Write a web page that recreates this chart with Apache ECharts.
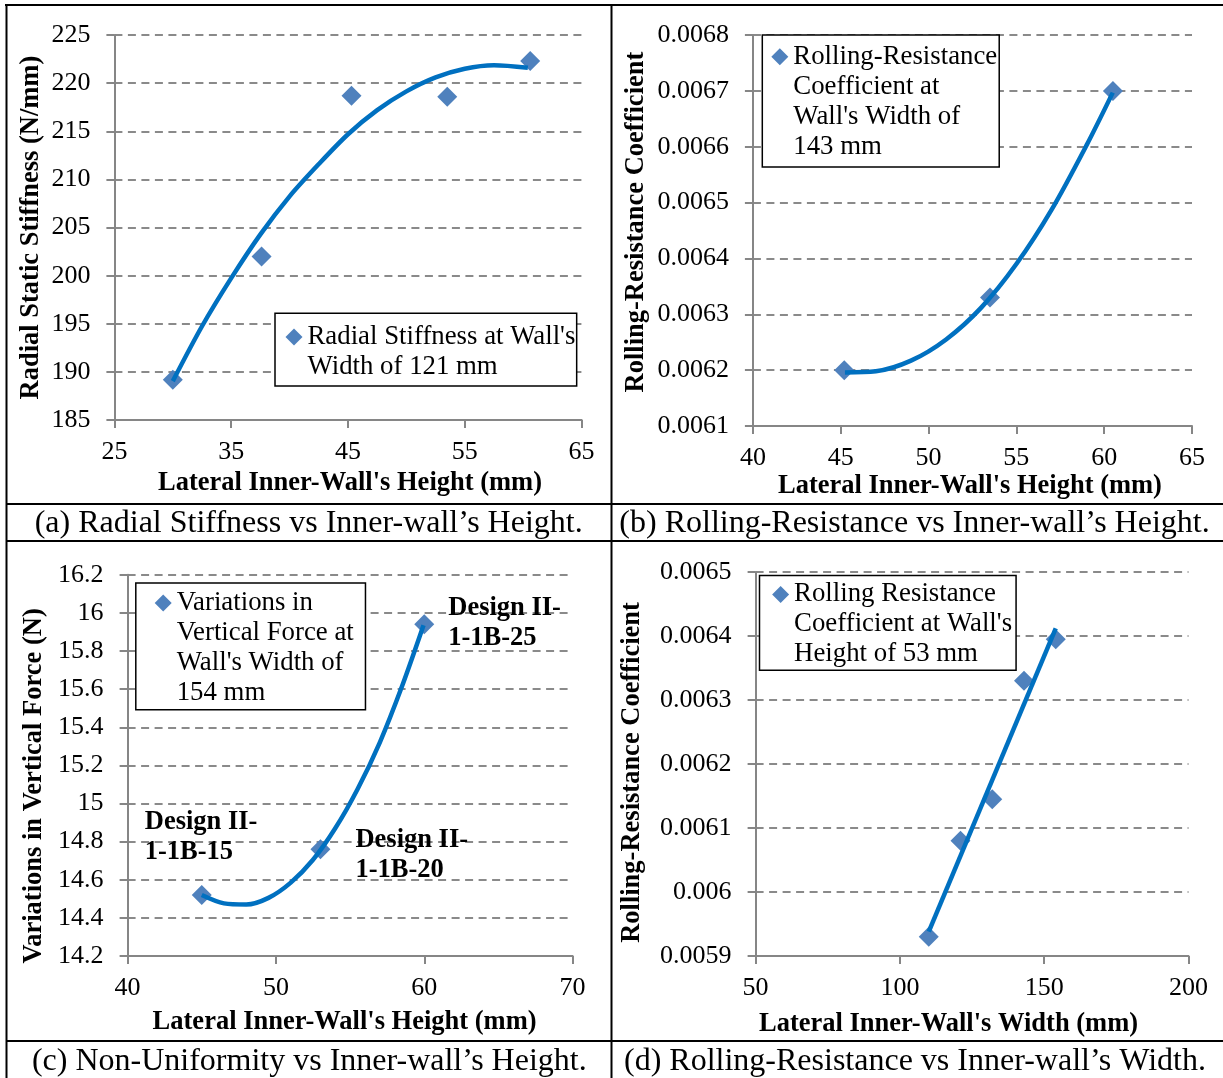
<!DOCTYPE html>
<html><head><meta charset="utf-8">
<script src="https://cdn.jsdelivr.net/npm/echarts@6/dist/echarts.min.js"></script>
<style>html,body{margin:0;padding:0;background:#fff}#c{width:1223px;height:1078px}</style>
</head><body><div id="c"></div>
<script>
// ---------- Panel (a) ----------
const xA = [30, 37.6, 45.3, 53.5, 60.6];
const yA = [189.2, 202.0, 218.7, 218.6, 222.3];
const trendAx = [30.0, 32.5, 35, 37.5, 40, 42.5, 45, 47.5, 50, 52.5, 55, 57.5, 60.4];
const trendAy = [189.05, 194.75, 199.75, 204.3, 208.25, 211.6, 214.7, 217.2, 219.15, 220.6, 221.5, 221.86, 221.6];
const legendA = ["Radial Stiffness at Wall's", "Width of 121 mm"];
// ---------- Panel (b) ----------
const xB = [45.2, 53.5, 60.5];
const yB = [0.0062, 0.00633, 0.0067];
const trendBx = [45.24, 47, 49, 51, 53, 55, 57, 59, 60.49];
const trendBy = [0.006196, 0.006198, 0.006217, 0.006255, 0.006312, 0.00639, 0.006487, 0.006603, 0.006697];
const legendB = ["Rolling-Resistance", "Coefficient at", "Wall's Width of", "143 mm"];
// ---------- Panel (c) ----------
const xC = [45, 53, 60];
const yC = [14.52, 14.76, 15.94];
const designC = ["Design II-\n1-1B-15", "Design II-\n1-1B-20", "Design II-\n1-1B-25"];
const trendCx = [45, 46.5, 48, 49.5, 51, 52.5, 54, 55.5, 57, 58.5, 59.95];
const trendCy = [14.52, 14.476, 14.47, 14.505, 14.585, 14.705, 14.87, 15.075, 15.32, 15.615, 15.935];
const legendC = ["Variations in", "Vertical Force at", "Wall's Width of", "154 mm"];
// ---------- Panel (d) ----------
const xD = [110, 121, 132, 143, 154];
const yD = [0.00593, 0.00608, 0.006145, 0.00633, 0.006395];
const trendDx = [110, 154];
const trendDy = [0.005938, 0.006412];
const legendD = ["Rolling Resistance", "Coefficient at Wall's", "Height of 53 mm"];
// ---------- Axis texts ----------
const xNames = ["Lateral Inner-Wall's Height (mm)", "Lateral Inner-Wall's Height (mm)", "Lateral Inner-Wall's Height (mm)", "Lateral Inner-Wall's Width (mm)"];
const yNames = ["Radial Static Stiffness (N/mm)", "Rolling-Resistance Coefficient", "Variations in Vertical Force (N)", "Rolling-Resistance Coefficient"];
const captions = ["(a) Radial Stiffness vs Inner-wall\u2019s Height.", "(b) Rolling-Resistance vs Inner-wall\u2019s Height.", "(c) Non-Uniformity vs Inner-wall\u2019s Height.", "(d) Rolling-Resistance vs Inner-wall\u2019s Width."];

const FONT = "'Liberation Serif', 'Times New Roman', serif";
const AXIS_GRAY = '#868686';
const LINE_BLUE = '#0070C0';
const MARK_BLUE = '#4F81BD';

const pairs = (xs, ys) => xs.map((x, i) => [x, ys[i]]);

const grids = [
  {left: 114.4, top: 35.1, width: 467.2, height: 385},
  {left: 752.9, top: 35.1, width: 439.1, height: 390.9},
  {left: 127.6, top: 574.8, width: 445, height: 381.2},
  {left: 755.6, top: 572, width: 432.9, height: 384}
];
const xRanges = [[25, 65, 10], [40, 65, 5], [40, 70, 10], [50, 200, 50]];
const yRanges = [[185, 225, 5], [0.0061, 0.0068, 0.0001], [14.2, 16.2, 0.2], [0.0059, 0.0065, 0.0001]];
const xNameGap = [50, 47, 52.7, 54.8];
const xNamePad = [[0, 0, 0, 4], [0, 5, 0, 0], [0, 11, 0, 0], [0, 47, 0, 0]];
const yNameGap = [70, 103.5, 80.4, 109.6];
const yNamePad = [[0, 0, 0, 0], [0, 0, 0, 17], [0, 41, 0, 0], [0, 17, 0, 0]];

const xAxes = grids.map((g, i) => ({
  type: 'value', gridIndex: i, min: xRanges[i][0], max: xRanges[i][1], interval: xRanges[i][2],
  name: xNames[i], nameLocation: 'middle', nameGap: xNameGap[i],
  nameTextStyle: {fontFamily: FONT, fontWeight: 'bold', fontSize: 26.5, color: '#000', padding: xNamePad[i]},
  axisLine: {show: true, onZero: false, lineStyle: {color: AXIS_GRAY, width: 2}},
  axisTick: {show: true, length: 8, lineStyle: {color: AXIS_GRAY, width: 2}},
  axisLabel: {margin: 19, fontFamily: FONT, fontSize: 26, color: '#000'},
  splitLine: {show: false}
}));
const yAxes = grids.map((g, i) => ({
  type: 'value', gridIndex: i, min: yRanges[i][0], max: yRanges[i][1], interval: yRanges[i][2],
  name: yNames[i], nameLocation: 'middle', nameGap: yNameGap[i],
  nameTextStyle: {fontFamily: FONT, fontWeight: 'bold', fontSize: 26.5, color: '#000', padding: yNamePad[i]},
  axisLine: {show: true, onZero: false, lineStyle: {color: AXIS_GRAY, width: 2}},
  axisTick: {show: true, length: 8, lineStyle: {color: AXIS_GRAY, width: 2}},
  axisLabel: {margin: 24, fontFamily: FONT, fontSize: 26, color: '#000'},
  splitLine: {show: true, lineStyle: {color: '#8a8a8a', width: 2, type: [8, 5.5]}}
}));

const legendTexts = [legendA, legendB, legendC, legendD];
const seriesNames = legendTexts.map(t => t.join(' '));
const LH = 30;
// diamond icon aligned with the first text line; invisible points stretch the icon box to the text block
const diamondIcon = n => {
  const H = n * LH;
  return `path://M0,0L0,0M17,${H}L17,${H}M8.5,6.5L17,15L8.5,23.5L0,15Z`;
};
const legendBoxes = [
  {left: 275, top: 313.3, padding: [8.7, 1.3, 4, 10.5]},
  {left: 762.3, top: 35.1, padding: [6.7, 2, 5.2, 9]},
  {left: 135.8, top: 583, padding: [5, 11.7, 1.8, 18.9]},
  {left: 759.5, top: 575.5, padding: [3.9, 4, 0.8, 12.6]}
];
const legends = legendBoxes.map((b, i) => ({
  data: [seriesNames[i]],
  left: b.left, top: b.top, padding: b.padding,
  orient: 'vertical', selectedMode: false,
  backgroundColor: '#fff', borderColor: '#000', borderWidth: 1.5,
  icon: diamondIcon(legendTexts[i].length), itemWidth: 17, itemHeight: LH * legendTexts[i].length,
  itemStyle: {color: MARK_BLUE, opacity: 1},
  formatter: () => legendTexts[i].join('\n'),
  textStyle: {fontFamily: FONT, fontSize: 26.8, color: '#000', lineHeight: LH}
}));

const labelOffsetsC = [[-57, -58], [35, 6], [24, -1]];
const scatterData = [
  pairs(xA, yA),
  pairs(xB, yB),
  pairs(xC, yC).map((v, i) => ({
    value: v,
    label: {show: true, position: [10 + labelOffsetsC[i][0], 10 + labelOffsetsC[i][1]],
      align: 'left', verticalAlign: 'middle', formatter: designC[i],
      fontFamily: FONT, fontWeight: 'bold', fontSize: 26.5, lineHeight: 30, color: '#000',
      textBorderWidth: 0, opacity: 1}
  })),
  pairs(xD, yD)
];
const trendData = [pairs(trendAx, trendAy), pairs(trendBx, trendBy), pairs(trendCx, trendCy), pairs(trendDx, trendDy)];

const series = [];
for (let i = 0; i < 4; i++) {
  series.push({
    type: 'scatter', name: seriesNames[i], xAxisIndex: i, yAxisIndex: i,
    data: scatterData[i], symbol: 'diamond', symbolSize: 20,
    itemStyle: {color: MARK_BLUE, opacity: 1}, z: 2, emphasis: {disabled: true}
  });
  series.push({
    type: 'line', name: 'Trend ' + (i + 1), xAxisIndex: i, yAxisIndex: i,
    data: trendData[i], smooth: i === 3 ? false : 0.3,
    showSymbol: false, symbol: 'none',
    lineStyle: {color: LINE_BLUE, width: 4.5}, z: 3, emphasis: {disabled: true}
  });
}

const L = (x1, y1, x2, y2) => ({type: 'line', silent: true, z: 100,
  shape: {x1, y1, x2, y2}, style: {stroke: '#000', lineWidth: 2}});
const T = (x, y, text) => ({type: 'text', silent: true, z: 100, x, y,
  style: {text, fill: '#000', font: '32px ' + FONT, textAlign: 'center', textVerticalAlign: 'middle'}});

const graphic = [
  L(5, 5, 1223, 5), L(6.5, 5, 6.5, 1078), L(611.5, 5, 611.5, 1078),
  L(6, 504, 1223, 504), L(6, 541, 1223, 541), L(6, 1041, 1223, 1041),
  T(308.7, 524, captions[0]), T(914.5, 524, captions[1]),
  T(309.3, 1062, captions[2]), T(915, 1062, captions[3])
];

const chart = echarts.init(document.getElementById('c'), null, {renderer: 'canvas'});
chart.setOption({
  animation: false,
  backgroundColor: '#fff',
  grid: grids,
  xAxis: xAxes,
  yAxis: yAxes,
  legend: legends,
  series,
  graphic
});
</script></body></html>
